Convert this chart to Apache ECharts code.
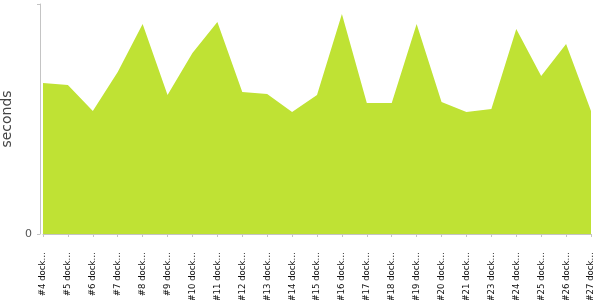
<!DOCTYPE html>
<html><head><meta charset="utf-8">
<script src="https://cdn.jsdelivr.net/npm/echarts@6/dist/echarts.min.js"></script>
<style>html,body{margin:0;padding:0;background:#fff}#c{width:600px;height:300px}</style>
</head><body><div id="c"></div>
<script>
const categories = ['#4 dock…','#5 dock…','#6 dock…','#7 dock…','#8 dock…','#9 dock…','#10 dock…','#11 dock…','#12 dock…','#13 dock…','#14 dock…','#15 dock…','#16 dock…','#17 dock…','#18 dock…','#19 dock…','#20 dock…','#21 dock…','#23 dock…','#24 dock…','#25 dock…','#26 dock…','#27 dock…'];
const seconds = [151,149,123,162,210,139,181,212,142,140,122,139,220,131,131,210,132,122,125,205,158,190,123];
const yTicks = ['0'];
const chart = echarts.init(document.getElementById('c'));
chart.setOption({
  animation:false,
  grid:{left:43,right:9,top:4,bottom:66,outerBoundsMode:'none',containLabel:false},
  xAxis:{type:'category',data:categories,boundaryGap:false,offset:5,
    axisLine:{lineStyle:{color:'#c4c4c4'}},
    axisTick:{show:true,alignWithLabel:true,length:3,lineStyle:{color:'#c4c4c4'}},
    axisLabel:{rotate:90,interval:0,fontSize:9.5,fontFamily:'DejaVu Sans Condensed',color:'#111',margin:13}},
  yAxis:{type:'value',min:0,max:230,interval:230,offset:3,name:'seconds',nameLocation:'middle',nameGap:22,
    nameTextStyle:{fontSize:14,fontFamily:'DejaVu Sans',color:'#444'},
    axisLine:{show:true,lineStyle:{color:'#c4c4c4'}},
    axisTick:{show:true,length:3,lineStyle:{color:'#c4c4c4'}},
    splitLine:{show:false},
    axisLabel:{fontSize:11,fontFamily:'DejaVu Sans',color:'#555',margin:8,formatter:v=>v===0?yTicks[0]:''}},
  series:[{type:'line',data:seconds,symbol:'none',lineStyle:{width:0},
    areaStyle:{color:'#bfe234',opacity:1}}]
});
</script></body></html>
